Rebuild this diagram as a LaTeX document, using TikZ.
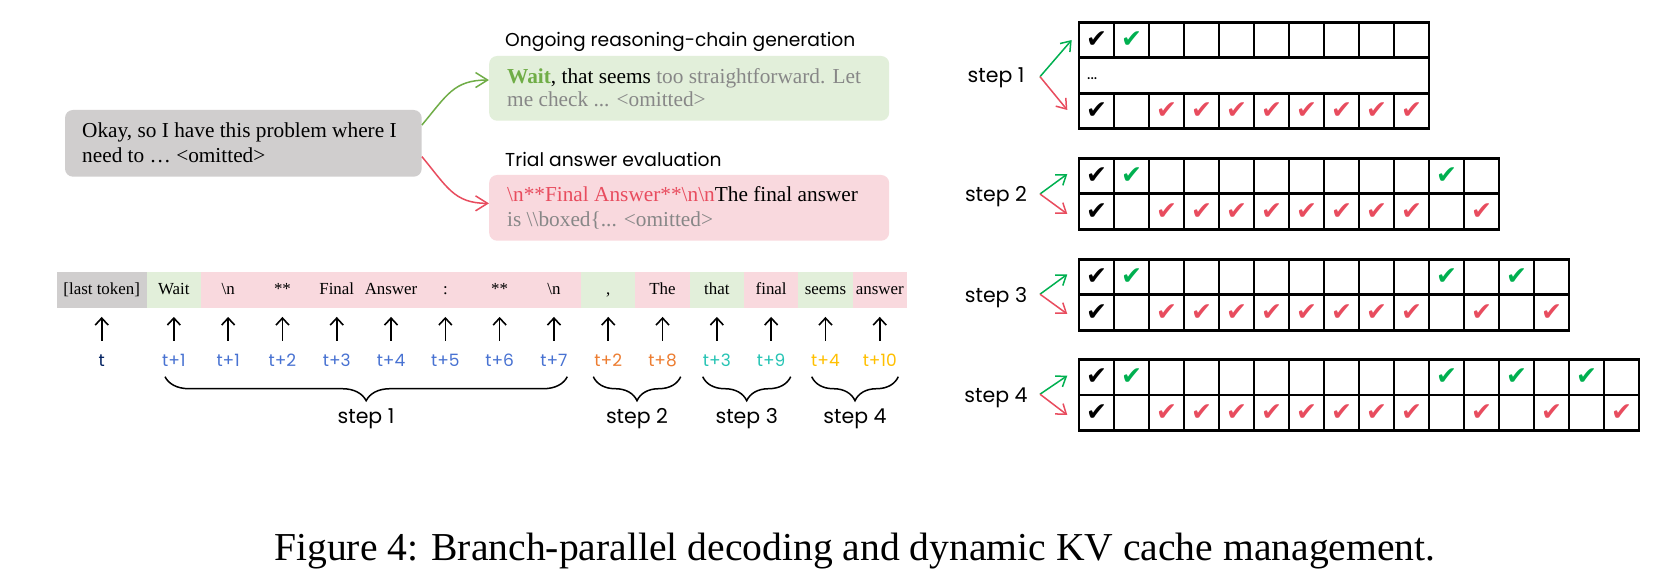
\documentclass[tikz,border=0pt]{standalone}
\usepackage{fontspec}
\setmainfont{Liberation Serif}
\newfontfamily\comic{Poppins}
\newfontfamily\sym{DejaVu Sans}
\usetikzlibrary{arrows.meta,decorations.pathreplacing,calc}
\definecolor{fgray}{RGB}{208,206,206}
\definecolor{fgreen}{RGB}{226,239,218}
\definecolor{fpink}{RGB}{249,217,222}
\definecolor{wgreen}{RGB}{112,173,71}
\definecolor{tred}{RGB}{232,76,94}
\definecolor{tgray}{RGB}{135,135,135}
\definecolor{cgreen}{RGB}{0,176,80}
\definecolor{cred}{RGB}{232,76,94}
\definecolor{lblue}{RGB}{72,114,210}
\definecolor{lorange}{RGB}{237,125,49}
\definecolor{lteal}{RGB}{38,196,180}
\definecolor{lgold}{RGB}{255,192,0}
\definecolor{lnavy}{RGB}{0,32,96}
\newcommand\tokcell[5]{%
  \pgfmathsetmacro\cx{173.85+54.3*(#1-1)}
  \node[tok, fill=#3] (c#1) at (\cx,289.7) {#2};
  \node[tlab, text=#5] (l#1) at (\cx,366.7) {#4};
  \draw[tokarrow] (l#1.north) -- (c#1.south);
}
\newcommand\putchk[4]{%
  \node[chk, text=#1] (#2) at ({1079+35*#3-17.5},#4) {✔};
}
\begin{document}
\begin{tikzpicture}[x=1pt,y=-1pt,
  tok/.style={minimum width=54.3pt, minimum height=36pt, inner sep=0pt, text height=12.5pt, text depth=2.5pt, font=\fontsize{16.9}{18}\selectfont},
  tlab/.style={anchor=base, inner sep=0pt, text height=12pt, text depth=0pt, font=\comic\fontsize{17}{18}\selectfont},
  tokarrow/.style={-{Straight Barb[length=7pt,width=13pt]}, line width=1.6pt, shorten <=14pt, shorten >=9pt},
  brc/.style={decorate, decoration={brace, mirror, amplitude=24pt}, line width=1.5pt},
  steplab/.style={anchor=base, inner sep=0pt, font=\comic\fontsize{20.5}{22}\selectfont},
  gridline/.style={line width=2.6pt},
  chk/.style={inner sep=0pt, font=\sym\fontsize{25}{25}\selectfont},
  gbox/.style={rounded corners=8pt, inner sep=0pt},
  btxt/.style={anchor=base west, inner sep=0pt, font=\fontsize{21.3}{25}\selectfont},
  ttl/.style={anchor=base west, inner sep=0pt, font=\comic\fontsize{18.7}{22}\selectfont},
  carrow/.style={line width=1.5pt, -{Straight Barb[length=12pt,width=15pt]}},
  sarrow/.style={line width=1.5pt, -{Straight Barb[length=9pt,width=13pt]}},
]
\path[use as bounding box, fill=white] (0,0) rectangle (1665,577);

% ---- top-left boxes
\node[gbox, fill=fgray, minimum width=356.7pt, minimum height=66.7pt] (q) at (243.35,143.35) {};
\node[btxt] (q1) at (82,138) {Okay, so I have this problem where I};
\node[btxt] (q2) at (82,163) {need to … <omitted>};

\node[ttl] (tt1) at (505,46.7) {Ongoing reasoning-chain generation};
\node[gbox, fill=fgreen, minimum width=400pt, minimum height=64.7pt] (gb) at (689.15,88.35) {};
\node[btxt] (gb1) at (507,83.3) {\textbf{\color{wgreen}Wait}, that seems {\color{tgray}too straightforward. Let}};
\node[btxt, text=tgray] (gb2) at (507,107) {me check ... <omitted>};

\node[ttl] (tt2) at (505,166.7) {Trial answer evaluation};
\node[gbox, fill=fpink, minimum width=400pt, minimum height=65.7pt] (rb) at (689.15,207.85) {};
\node[btxt] (rb1) at (507,201.7) {{\color{tred}\textbackslash n**Final Answer**\textbackslash n\textbackslash n}The final answer};
\node[btxt, text=tgray] (rb2) at (507,226.7) {is \textbackslash\textbackslash boxed\{... <omitted>};

\draw[carrow, wgreen] ($(q.east)+(0,-18.3)$) .. controls +(25,-30) and +(-35,0) .. ($(gb.west)+(0,-8.3)$);
\draw[carrow, tred] ($(q.east)+(0,13.3)$) .. controls +(25,30) and +(-35,0) .. ($(rb.west)+(0,-4.5)$);

% ---- token row
\node[tok, fill=fgray, minimum width=90pt] (c0) at (101.7,289.7) {[last token]};
\node[tlab, text=lnavy] (l0) at (101.7,366.7) {t};
\draw[tokarrow] (l0.north) -- (c0.south);
\tokcell{1}{Wait}{fgreen}{t+1}{lblue}
\tokcell{2}{\textbackslash n}{fpink}{t+1}{lblue}
\tokcell{3}{**}{fpink}{t+2}{lblue}
\tokcell{4}{Final}{fpink}{t+3}{lblue}
\tokcell{5}{Answer}{fpink}{t+4}{lblue}
\tokcell{6}{:}{fpink}{t+5}{lblue}
\tokcell{7}{**}{fpink}{t+6}{lblue}
\tokcell{8}{\textbackslash n}{fpink}{t+7}{lblue}
\tokcell{9}{,}{fgreen}{t+2}{lorange}
\tokcell{10}{The}{fpink}{t+8}{lorange}
\tokcell{11}{that}{fgreen}{t+3}{lteal}
\tokcell{12}{final}{fpink}{t+9}{lteal}
\tokcell{13}{seems}{fgreen}{t+4}{lgold}
\tokcell{14}{answer}{fpink}{t+10}{lgold}

\draw[brc] (165,376.7) -- (567.3,376.7);
\draw[brc] (593.3,376.7) -- (680.7,376.7);
\draw[brc] (702.7,376.7) -- (790.7,376.7);
\draw[brc] (811.7,376.7) -- (898.3,376.7);
\node[steplab] (b1) at (366,423.3) {step 1};
\node[steplab] (b2) at (637,423.3) {step 2};
\node[steplab] (b3) at (746.7,423.3) {step 3};
\node[steplab] (b4) at (855,423.3) {step 4};

% ---- grids
\node[draw, gridline, inner sep=0pt, outer sep=0pt, minimum width=350pt, minimum height=106.5pt, anchor=north west] (g1) at (1079,22.3) {};
\draw[gridline] (1079,57.8) -- (1429,57.8) (1079,93.3) -- (1429,93.3);
\foreach \i in {1,...,9} {\draw[gridline] ({1079+35*\i},22.3) -- ++(0,35.5) ({1079+35*\i},93.3) -- ++(0,35.5);}
\node[anchor=base west, inner sep=0pt, font=\comic\fontsize{16}{16}\selectfont] (dots) at (1087,80) {...};

\node[draw, gridline, inner sep=0pt, outer sep=0pt, minimum width=420pt, minimum height=71pt, anchor=north west] (g2) at (1079,158.3) {};
\draw[gridline] (1079,193.8) -- (1499,193.8);
\foreach \i in {1,...,11} {\draw[gridline] ({1079+35*\i},158.3) -- ++(0,71);}

\node[draw, gridline, inner sep=0pt, outer sep=0pt, minimum width=490pt, minimum height=71pt, anchor=north west] (g3) at (1079,259.3) {};
\draw[gridline] (1079,294.8) -- (1569,294.8);
\foreach \i in {1,...,13} {\draw[gridline] ({1079+35*\i},259.3) -- ++(0,71);}

\node[draw, gridline, inner sep=0pt, outer sep=0pt, minimum width=560pt, minimum height=71pt, anchor=north west] (g4) at (1079,359.3) {};
\draw[gridline] (1079,394.8) -- (1639,394.8);
\foreach \i in {1,...,15} {\draw[gridline] ({1079+35*\i},359.3) -- ++(0,71);}

% checks grid 1
\putchk{black}{a11}{1}{40.05}
\putchk{cgreen}{a12}{2}{40.05}
\putchk{black}{a31}{1}{111.05}
\foreach \i in {3,...,10} {\putchk{cred}{a3\i}{\i}{111.05}}
% grid 2
\putchk{black}{b11}{1}{176.05}
\putchk{cgreen}{b12}{2}{176.05}
\putchk{cgreen}{b111}{11}{176.05}
\putchk{black}{b21}{1}{211.55}
\foreach \i in {3,...,10,12} {\putchk{cred}{b2\i}{\i}{211.55}}
% grid 3
\putchk{black}{d11}{1}{277.05}
\foreach \i in {2,11,13} {\putchk{cgreen}{d1\i}{\i}{277.05}}
\putchk{black}{d21}{1}{312.55}
\foreach \i in {3,...,10,12,14} {\putchk{cred}{d2\i}{\i}{312.55}}
% grid 4
\putchk{black}{e11}{1}{377.05}
\foreach \i in {2,11,13,15} {\putchk{cgreen}{e1\i}{\i}{377.05}}
\putchk{black}{e21}{1}{412.55}
\foreach \i in {3,...,10,12,14,16} {\putchk{cred}{e2\i}{\i}{412.55}}

% step labels and arrows
\node[steplab] (s1) at (996,82.7) {step 1};
\node[steplab] (s2) at (996,201.7) {step 2};
\node[steplab] (s3) at (996,302.7) {step 3};
\node[steplab] (s4) at (996,402.7) {step 4};
\coordinate (s1o) at (1040,76.7); \coordinate (s1g) at (1071.7,40); \coordinate (s1r) at (1067.3,110);
\coordinate (s2o) at (1040,194); \coordinate (s2g) at (1067.3,174); \coordinate (s2r) at (1067.3,214);
\coordinate (s3o) at (1040,294.2); \coordinate (s3g) at (1067.3,274.3); \coordinate (s3r) at (1067.3,314);
\coordinate (s4o) at (1040,394.2); \coordinate (s4g) at (1067.3,375.7); \coordinate (s4r) at (1067.3,415);
\foreach \s in {1,2,3,4} {
  \draw[sarrow, cgreen] (s\s o) -- (s\s g);
  \draw[sarrow, cred] (s\s o) -- (s\s r);
}

% caption
\node[anchor=base west, inner sep=0pt, font=\fontsize{39.6}{44}\selectfont] (cap) at (274,560) {Figure 4: Branch-parallel decoding and dynamic KV cache management.};
\end{tikzpicture}
\end{document}
